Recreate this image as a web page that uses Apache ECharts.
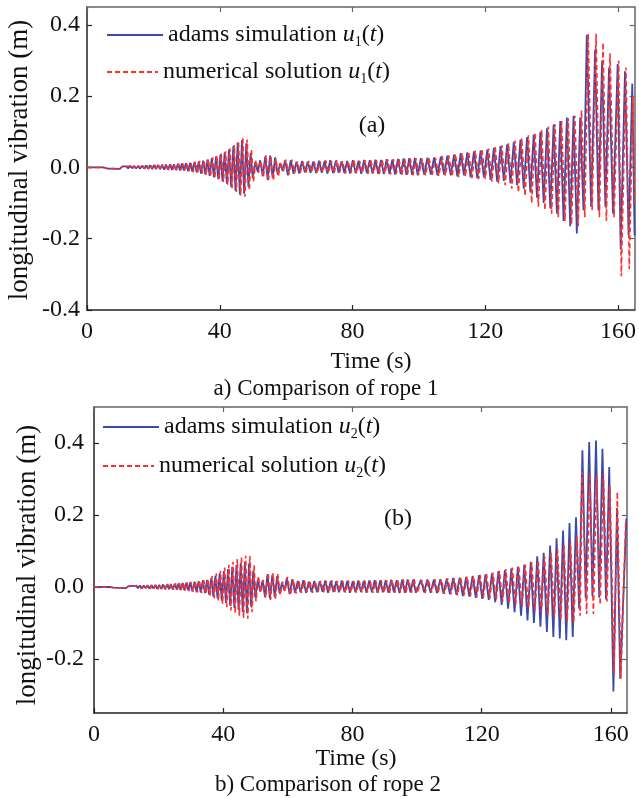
<!DOCTYPE html>
<html><head><meta charset="utf-8">
<script src="https://cdn.jsdelivr.net/npm/echarts@6/dist/echarts.min.js"></script>
<style>html,body{margin:0;padding:0;background:#fff}#c{width:639px;height:798px}</style>
</head><body><div id="c"></div>
<script>
// ---------- tick labels ----------
const xTicks = [0, 40, 80, 120, 160];
const yTicks1 = [-0.4, -0.2, 0, 0.2, 0.4];
const yTicks2 = [-0.2, 0, 0.2, 0.4];

// ---------- (a) rope 1 : times of read extrema (s) ----------
const timeA1 = [0,5,6,9.9,10.2,
 10.6,11.2,11.8,12.4,13.0,13.6,14.2,14.8,15.4,16.0,16.6,17.2,17.8,18.4,19.0,19.6,20.2,20.8,21.4,22.0,22.6,23.2,23.8,24.4,25.0,25.6,26.2,26.8,27.4,28.0,28.6,29.2,29.8,
 30.45,31.1,31.75,32.4,33.05,33.7,34.35,35.0,35.65,36.3,36.95,37.6,38.25,38.9,39.55,40.2,40.85,41.5,42.15,42.8,43.45,44.1,44.75,45.4,46.05,46.7,47.35,48.0,48.65,49.3,
 49.95,50.7,51.45,52.2,52.95,53.7,54.45,55.2,55.95,56.7,57.45,58.2,58.95,59.7,
 60.55,61.4,62.25,63.1,63.95,64.8,65.65,66.5,67.35,68.2,69.05,69.9,70.75,71.6,72.45,73.3,74.15,75.0,75.85,76.7,77.55,78.4,79.25,80.1,80.95,81.8,82.65,83.5,84.35,85.2,86.05,86.9,87.75,88.6,89.45,90.3,91.15,92.0,92.85,93.7,94.55,95.4,96.25,97.1,97.95,98.8,99.65,
 100.6,101.6,102.6,103.6,104.6,105.6,106.6,107.6,108.6,109.6,110.6,111.6,112.6,113.6,114.6,115.6,116.6,117.6,118.6,119.6,120.6,121.6,122.6,123.6,124.6,125.6,126.6,127.6,128.6,129.6,130.6,131.6,132.6,133.6,134.6,135.6,136.6,137.6,138.6,139.6,140.6,141.6,142.6,143.6,144.6,145.6,146.6,147.6,148.6,149.6,150.6,
 151.9,153.1,154.1,155.2,156.2,157.3,158.5,159.9,160.8,162.1,163.2,164.3,165];
const adams1 = [0,0,-0.003,-0.004,-0.001,
 0.003,-0.002,0.003,-0.003,0.004,-0.002,0.004,-0.003,0.004,-0.004,0.005,-0.003,0.005,-0.004,0.006,-0.004,0.006,-0.005,0.007,-0.005,0.007,-0.006,0.008,-0.006,0.008,-0.007,0.009,-0.007,0.010,-0.008,0.011,-0.009,0.012,
 -0.010,0.013,-0.012,0.015,-0.014,0.017,-0.017,0.019,-0.020,0.022,-0.024,0.026,-0.028,0.031,-0.033,0.036,-0.039,0.042,-0.046,0.050,-0.055,0.060,-0.066,0.070,-0.076,0.077,-0.074,0.068,-0.055,0.04,
 -0.03,0.015,-0.012,0.02,-0.025,0.03,-0.035,0.033,-0.03,0.028,-0.02,0.012,-0.01,0.02,
 -0.022,0.02,-0.018,0.015,-0.017,0.018,-0.014,0.016,-0.015,0.017,-0.016,0.019,-0.015,0.018,-0.017,0.02,-0.016,0.019,-0.015,0.017,-0.016,0.018,-0.017,0.02,-0.016,0.019,-0.018,0.021,-0.016,0.02,-0.017,0.022,-0.018,0.021,-0.019,0.023,-0.018,0.022,-0.02,0.024,-0.019,0.025,-0.021,0.026,-0.02,0.027,-0.022,
 0.026,-0.02,0.027,-0.02,0.028,-0.022,0.03,-0.02,0.033,-0.022,0.036,-0.025,0.04,-0.022,0.042,-0.028,0.045,-0.03,0.048,-0.028,0.05,-0.035,0.055,-0.04,0.06,-0.038,0.065,-0.045,0.072,-0.05,0.078,-0.06,0.085,-0.07,0.092,-0.085,0.1,-0.1,0.11,-0.115,0.12,-0.13,0.13,-0.15,0.14,-0.165,0.145,-0.185,0.14,-0.12,0.372,
 -0.11,0.33,-0.12,0.30,-0.11,0.28,-0.13,0.29,-0.23,0.27,-0.19,0.235,-0.19];
const timeN1 = [0,5,6,9.9,10.2,
 10.8,11.4,12.0,12.6,13.2,13.8,14.4,15.0,15.6,16.2,16.8,17.4,18.0,18.6,19.2,19.8,20.4,21.0,21.6,22.2,22.8,23.4,24.0,24.6,25.2,25.8,26.4,27.0,27.6,28.2,28.8,29.4,30.0,
 30.7,31.35,32.0,32.65,33.3,33.95,34.6,35.25,35.9,36.55,37.2,37.85,38.5,39.15,39.8,40.45,41.1,41.75,42.4,43.05,43.7,44.35,45.0,45.65,46.3,46.95,47.6,48.25,48.9,49.55,
 50.15,50.9,51.65,52.4,53.15,53.9,54.65,55.4,56.15,56.9,57.65,58.4,59.15,59.9,
 60.85,61.7,62.55,63.4,64.25,65.1,65.95,66.8,67.65,68.5,69.35,70.2,71.05,71.9,72.75,73.6,74.45,75.3,76.15,77.0,77.85,78.7,79.55,80.4,81.25,82.1,82.95,83.8,84.65,85.5,86.35,87.2,88.05,88.9,89.75,90.6,91.45,92.3,93.15,94.0,94.85,95.7,96.55,97.4,98.25,99.1,99.95,
 101.0,102.0,103.0,104.0,105.0,106.0,107.0,108.0,109.0,110.0,111.0,112.0,113.0,114.0,115.0,116.0,117.0,118.0,119.0,120.0,121.0,122.0,123.0,124.0,125.0,126.0,127.0,128.0,129.0,130.0,131.0,132.0,133.0,134.0,135.0,136.0,137.0,138.0,139.0,140.0,141.0,142.0,143.0,144.0,145.0,146.0,147.0,148.0,149.0,150.0,151.0,
 152.2,153.4,154.4,155.5,156.5,157.6,158.8,160.2,161.0,162.4,163.4,164.5,165];
const numerical1 = [0,0,-0.003,-0.004,-0.001,
 0.002,-0.003,0.003,-0.002,0.004,-0.003,0.003,-0.004,0.005,-0.003,0.004,-0.004,0.006,-0.004,0.005,-0.005,0.007,-0.005,0.006,-0.006,0.008,-0.006,0.007,-0.007,0.009,-0.007,0.008,-0.008,0.010,-0.009,0.012,-0.009,0.011,
 -0.011,0.012,-0.013,0.016,-0.015,0.018,-0.018,0.020,-0.021,0.024,-0.025,0.028,-0.030,0.033,-0.035,0.039,-0.041,0.045,-0.049,0.053,-0.058,0.063,-0.069,0.074,-0.079,0.084,-0.082,0.078,-0.065,0.05,
 -0.04,0.02,-0.015,0.018,-0.028,0.035,-0.038,0.03,-0.036,0.025,-0.025,0.015,-0.012,0.022,
 -0.02,0.022,-0.016,0.017,-0.015,0.016,-0.016,0.018,-0.013,0.015,-0.017,0.017,-0.014,0.02,-0.015,0.018,-0.017,0.02,-0.014,0.018,-0.017,0.017,-0.015,0.021,-0.017,0.018,-0.016,0.02,-0.018,0.021,-0.016,0.02,-0.019,0.022,-0.017,0.022,-0.02,0.023,-0.018,0.023,-0.021,0.024,-0.02,0.025,-0.022,0.026,-0.021,
 0.024,-0.022,0.028,-0.021,0.027,-0.024,0.032,-0.023,0.034,-0.025,0.038,-0.027,0.041,-0.026,0.044,-0.03,0.047,-0.033,0.05,-0.032,0.053,-0.04,0.058,-0.045,0.062,-0.05,0.068,-0.06,0.075,-0.07,0.082,-0.08,0.09,-0.1,0.098,-0.11,0.106,-0.12,0.115,-0.13,0.122,-0.14,0.13,-0.15,0.138,-0.16,0.145,-0.165,0.16,-0.14,0.375,
 -0.12,0.375,-0.14,0.35,-0.15,0.32,-0.14,0.30,-0.305,0.28,-0.285,0.2,-0.1];

// ---------- (b) rope 2 ----------
const timeA2 = [0,5,6,9.9,10.2,
 10.6,11.2,11.8,12.4,13.0,13.6,14.2,14.8,15.4,16.0,16.6,17.2,17.8,18.4,19.0,19.6,20.2,20.8,21.4,22.0,22.6,23.2,23.8,24.4,25.0,25.6,26.2,26.8,27.4,28.0,28.6,29.2,29.8,
 30.45,31.1,31.75,32.4,33.05,33.7,34.35,35.0,35.65,36.3,36.95,37.6,38.25,38.9,39.55,40.2,40.85,41.5,42.15,42.8,43.45,44.1,44.75,45.4,46.05,46.7,47.35,48.0,48.65,49.3,
 49.95,50.7,51.45,52.2,52.95,53.7,54.45,55.2,55.95,56.7,57.45,58.2,58.95,59.7,
 60.55,61.4,62.25,63.1,63.95,64.8,65.65,66.5,67.35,68.2,69.05,69.9,70.75,71.6,72.45,73.3,74.15,75.0,75.85,76.7,77.55,78.4,79.25,80.1,80.95,81.8,82.65,83.5,84.35,85.2,86.05,86.9,87.75,88.6,89.45,90.3,91.15,92.0,92.85,93.7,94.55,95.4,96.25,97.1,97.95,98.8,99.65,
 101.2,102.2,103.2,104.2,105.2,106.2,107.2,108.2,109.2,110.2,111.2,112.2,113.2,114.2,115.2,116.2,117.2,118.2,119.2,120.2,121.2,122.2,123.2,124.2,125.2,126.2,127.2,128.2,129.2,130.2,131.2,132.2,133.2,134.2,135.2,136.2,137.2,138.2,139.2,140.2,141.2,142.2,143.2,144.2,145.2,146.2,147.2,148.2,149.2,150.2,151.2,
 152.2,153.3,154.3,155.4,156.4,157.4,158.5,159.5,160.8,161.9,162.9,164.8];
const adams2 = [0,0,-0.002,-0.003,-0.001,
 0.002,-0.002,0.003,-0.002,0.003,-0.003,0.004,-0.003,0.004,-0.003,0.005,-0.004,0.005,-0.004,0.006,-0.005,0.006,-0.005,0.007,-0.006,0.007,-0.006,0.008,-0.007,0.009,-0.007,0.01,-0.008,0.011,-0.009,0.012,-0.01,0.013,
 -0.012,0.015,-0.014,0.016,-0.015,0.018,-0.017,0.02,-0.021,0.025,-0.026,0.031,-0.032,0.037,-0.038,0.044,-0.045,0.05,-0.052,0.056,-0.058,0.061,-0.064,0.066,-0.07,0.07,-0.072,0.065,-0.055,0.045,
 -0.03,0.02,-0.013,0.018,-0.028,0.035,-0.032,0.034,-0.028,0.03,-0.018,0.012,-0.01,0.025,
 -0.02,0.022,-0.016,0.017,-0.015,0.019,-0.016,0.015,-0.014,0.017,-0.015,0.016,-0.013,0.018,-0.016,0.017,-0.014,0.016,-0.015,0.018,-0.014,0.017,-0.016,0.016,-0.015,0.018,-0.014,0.017,-0.016,0.018,-0.015,0.019,-0.016,0.018,-0.015,0.019,-0.016,0.02,-0.015,0.019,-0.017,0.02,-0.016,0.021,-0.015,0.02,-0.016,
 0.02,-0.015,0.021,-0.016,0.02,-0.017,0.022,-0.018,0.023,-0.02,0.025,-0.022,0.026,-0.025,0.028,-0.027,0.031,-0.03,0.033,-0.033,0.035,-0.036,0.038,-0.042,0.044,-0.05,0.047,-0.06,0.052,-0.07,0.057,-0.08,0.062,-0.093,0.07,-0.1,0.085,-0.11,0.095,-0.125,0.115,-0.139,0.135,-0.143,0.157,-0.148,0.178,-0.139,0.194,-0.06,0.38,
 -0.03,0.403,-0.025,0.407,-0.03,0.384,-0.035,0.333,-0.29,0.22,-0.255,0.19];
const timeN2 = [0,5,6,9.9,10.2,
 10.8,11.4,12.0,12.6,13.2,13.8,14.4,15.0,15.6,16.2,16.8,17.4,18.0,18.6,19.2,19.8,20.4,21.0,21.6,22.2,22.8,23.4,24.0,24.6,25.2,25.8,26.4,27.0,27.6,28.2,28.8,29.4,30.0,
 30.7,31.35,32.0,32.65,33.3,33.95,34.6,35.25,35.9,36.55,37.2,37.85,38.5,39.15,39.8,40.45,41.1,41.75,42.4,43.05,43.7,44.35,45.0,45.65,46.3,46.95,47.6,48.25,48.9,49.55,
 50.15,50.9,51.65,52.4,53.15,53.9,54.65,55.4,56.15,56.9,57.65,58.4,59.15,59.9,
 60.85,61.7,62.55,63.4,64.25,65.1,65.95,66.8,67.65,68.5,69.35,70.2,71.05,71.9,72.75,73.6,74.45,75.3,76.15,77.0,77.85,78.7,79.55,80.4,81.25,82.1,82.95,83.8,84.65,85.5,86.35,87.2,88.05,88.9,89.75,90.6,91.45,92.3,93.15,94.0,94.85,95.7,96.55,97.4,98.25,99.1,99.95,
 101.5,102.5,103.5,104.5,105.5,106.5,107.5,108.5,109.5,110.5,111.5,112.5,113.5,114.5,115.5,116.5,117.5,118.5,119.5,120.5,121.5,122.5,123.5,124.5,125.5,126.5,127.5,128.5,129.5,130.5,131.5,132.5,133.5,134.5,135.5,136.5,137.5,138.5,139.5,140.5,141.5,142.5,143.5,144.5,145.5,146.5,147.5,148.5,149.5,150.5,151.1,
 152.5,153.5,154.6,155.6,156.7,157.7,158.8,159.7,161.0,162.0,163.1,164.6];
const numerical2 = [0,0,-0.002,-0.003,-0.001,
 0.003,-0.002,0.002,-0.003,0.004,-0.002,0.003,-0.004,0.005,-0.003,0.004,-0.005,0.006,-0.004,0.005,-0.006,0.007,-0.005,0.006,-0.007,0.008,-0.006,0.009,-0.008,0.01,-0.008,0.011,-0.009,0.012,-0.01,0.013,-0.011,0.014,
 -0.013,0.016,-0.015,0.018,-0.017,0.02,-0.019,0.023,-0.025,0.03,-0.031,0.037,-0.039,0.045,-0.047,0.054,-0.056,0.062,-0.065,0.07,-0.073,0.078,-0.08,0.083,-0.086,0.087,-0.088,0.087,-0.07,0.06,
 -0.04,0.03,-0.015,0.02,-0.03,0.04,-0.036,0.038,-0.035,0.036,-0.022,0.015,-0.012,0.028,
 -0.022,0.02,-0.018,0.016,-0.016,0.018,-0.014,0.016,-0.016,0.015,-0.013,0.017,-0.015,0.016,-0.014,0.018,-0.016,0.017,-0.013,0.016,-0.016,0.018,-0.014,0.017,-0.016,0.016,-0.015,0.018,-0.014,0.017,-0.016,0.018,-0.015,0.019,-0.016,0.018,-0.017,0.019,-0.016,0.02,-0.015,0.021,-0.017,0.02,-0.016,0.022,-0.017,
 0.018,-0.017,0.02,-0.015,0.022,-0.016,0.021,-0.019,0.024,-0.019,0.024,-0.023,0.027,-0.024,0.029,-0.026,0.03,-0.028,0.034,-0.03,0.036,-0.033,0.04,-0.036,0.045,-0.04,0.05,-0.045,0.054,-0.05,0.058,-0.055,0.062,-0.06,0.068,-0.065,0.075,-0.07,0.085,-0.078,0.095,-0.085,0.105,-0.09,0.115,-0.095,0.125,-0.1,0.14,-0.08,0.32,
 -0.075,0.315,-0.075,0.31,-0.05,0.315,-0.04,0.28,-0.24,0.264,-0.255,0.18];

// ---------- build ----------
const FONT = "'Liberation Serif', 'Times New Roman', serif";
const BLUE = '#3A4AA8', RED = '#FF3030';
const DARK = '#222', GRAY = '#666';
const pairs = (t, v) => t.map((x, i) => [x, v[i]]);

const NAMES = ['adams simulation u1(t)', 'numerical solution u1(t)', 'adams simulation u2(t)', 'numerical solution u2(t)'];

function legendFmt(name) {
  const m = name.match(/^(.*) u(\d)\(t\)$/);
  return '{n|' + m[1] + ' }{i|u}{s|' + m[2] + '}{n|(}{i|t}{n|)}';
}
const legendText = {
  fontFamily: FONT, fontSize: 24, color: '#111', lineHeight: 28,
  rich: {
    n: { fontFamily: FONT, fontSize: 24, color: '#111', lineHeight: 28 },
    i: { fontFamily: FONT, fontSize: 24, color: '#111', fontStyle: 'italic', lineHeight: 28 },
    s: { fontFamily: FONT, fontSize: 14, color: '#111', lineHeight: 14, verticalAlign: 'bottom' }
  }
};
function legend(name, left, top, w) {
  return { data: [name], left: left, top: top, padding: 0, itemWidth: w, itemHeight: 14,
    selectedMode: false, formatter: legendFmt, textStyle: legendText,
    itemStyle: { opacity: 0 } };
}

function xAxis(grid, pos) {
  const main = pos === 'bottom';
  return { type: 'value', gridIndex: grid, position: pos, min: 0, max: 165, interval: 40,
    axisLine: { show: true, onZero: false, lineStyle: { color: main ? DARK : GRAY, width: 1.5 } },
    axisTick: { show: true, inside: true, length: 5, customValues: xTicks, lineStyle: { color: main ? DARK : GRAY, width: 1.2 } },
    axisLabel: { show: main, customValues: xTicks, margin: 10, fontFamily: FONT, fontSize: 24, color: '#111' },
    splitLine: { show: false } };
}
function yAxis(grid, pos, min, max, ticks) {
  const main = pos === 'left';
  return { type: 'value', gridIndex: grid, position: pos, min: min, max: max,
    axisLine: { show: true, onZero: false, lineStyle: { color: main ? DARK : GRAY, width: 1.5 } },
    axisTick: { show: true, inside: true, length: 5, customValues: ticks, lineStyle: { color: main ? DARK : GRAY, width: 1.2 } },
    axisLabel: { show: main, customValues: ticks, margin: grid === 0 ? 7 : 10, fontFamily: FONT, fontSize: 24, color: '#111',
      formatter: v => v.toFixed(1) },
    splitLine: { show: false } };
}
function line(name, data, xi, yi, color, dashed) {
  return { type: 'line', name: name, data: data, xAxisIndex: xi, yAxisIndex: yi,
    symbol: 'none', showSymbol: false, z: dashed ? 3 : 2,
    lineStyle: { color: color, width: dashed ? 1.6 : 1.8, type: dashed ? [5, 3] : 'solid' },
    itemStyle: { color: color } };
}
function txt(text, x, y, size, rot) {
  return { type: 'text', x: x, y: y, rotation: rot || 0,
    style: { text: text, fontFamily: FONT, fontSize: size, fill: '#111', align: 'center', verticalAlign: 'middle' } };
}

const chart = echarts.init(document.getElementById('c'));
chart.setOption({
  animation: false,
  backgroundColor: '#fff',
  grid: [
    { left: 87, top: 7, width: 550, height: 303 },
    { left: 94, top: 407, width: 533, height: 306 }
  ],
  xAxis: [xAxis(0, 'bottom'), xAxis(0, 'top'), xAxis(1, 'bottom'), xAxis(1, 'top')],
  yAxis: [yAxis(0, 'left', -0.4, 0.45, yTicks1), yAxis(0, 'right', -0.4, 0.45, yTicks1),
          yAxis(1, 'left', -0.35, 0.5, yTicks2), yAxis(1, 'right', -0.35, 0.5, yTicks2)],
  legend: [legend(NAMES[0], 106, 21, 56), legend(NAMES[1], 106, 58, 51),
           legend(NAMES[2], 102, 413, 56), legend(NAMES[3], 102, 452, 51)],
  series: [
    line(NAMES[0], pairs(timeA1, adams1), 0, 0, BLUE, false),
    line(NAMES[1], pairs(timeN1, numerical1), 0, 0, RED, true),
    line(NAMES[2], pairs(timeA2, adams2), 2, 2, BLUE, false),
    line(NAMES[3], pairs(timeN2, numerical2), 2, 2, RED, true)
  ],
  graphic: [
    txt('(a)', 372, 126, 24), txt('(b)', 398, 519, 24),
    txt('Time (s)', 371, 362, 24), txt('Time (s)', 356, 759, 24),
    txt('a) Comparison of rope 1', 326, 389, 23), txt('b) Comparison of rope 2', 328, 785, 23),
    txt('longitudinal vibration (m)', 20, 160, 27, Math.PI / 2),
    txt('longitudinal vibration (m)', 28, 565, 27, Math.PI / 2)
  ]
});
</script></body></html>
